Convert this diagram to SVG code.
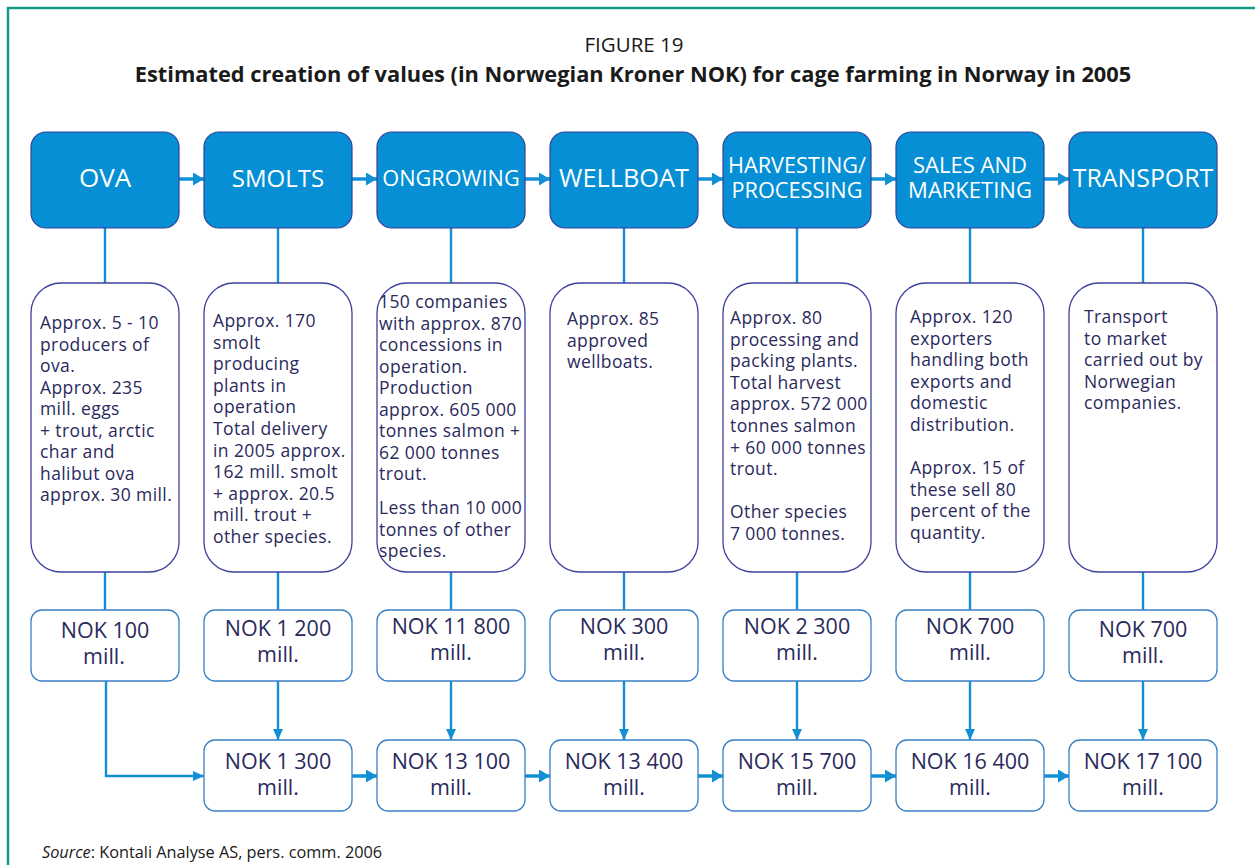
<svg xmlns="http://www.w3.org/2000/svg" width="1255" height="865" viewBox="0 0 1255 865">
<style>
.frame{fill:#ffffff;stroke:#17998a;stroke-width:2.5}
.stage{fill:#068fd4;stroke:#33409a;stroke-width:1.2}
.stl{font-family:"Open Sans","Noto Sans",sans-serif;fill:#ffffff;text-anchor:middle}
.info{fill:#ffffff;stroke:#3d419e;stroke-width:1.3}
.val{fill:#ffffff;stroke:#3a80c6;stroke-width:1.3}
.txt{font-family:"Open Sans","Noto Sans",sans-serif;font-size:17.5px;letter-spacing:0.4px;fill:#2a2a5c}
.vt{font-family:"Open Sans","Noto Sans",sans-serif;font-size:21.5px;fill:#2a2a5c;text-anchor:middle}
.link{stroke:#1290d6;stroke-width:2.4;fill:none}
.thick{stroke:#1290d6;stroke-width:3.5;fill:none}
</style>
<defs>
<marker id="bigArrow" markerUnits="userSpaceOnUse" markerWidth="11" markerHeight="13" refX="11" refY="6.5" orient="auto">
<path d="M0,0 L11,6.5 L0,13 z" fill="#1290d6"/>
</marker>
<marker id="smallArrow" markerUnits="userSpaceOnUse" markerWidth="11" markerHeight="10" refX="11" refY="5" orient="auto">
<path d="M0,0 L11,5 L0,10 z" fill="#1290d6"/>
</marker>
</defs>
<rect class="frame" x="8" y="8" width="1270" height="880"/>
<text x="634" y="52" font-family="Open Sans,Noto Sans,sans-serif" font-size="20.5" fill="#1a1a1a" text-anchor="middle">FIGURE 19</text>
<text x="633" y="82" font-family="Open Sans,Noto Sans,sans-serif" font-size="21.8" font-weight="bold" fill="#1a1a1a" text-anchor="middle">Estimated creation of values (in Norwegian Kroner NOK) for cage farming in Norway in 2005</text>

<g id="connectors">
<line class="thick" x1="179" y1="179" x2="204" y2="179" marker-end="url(#bigArrow)"/>
<line class="thick" x1="352" y1="179" x2="377" y2="179" marker-end="url(#bigArrow)"/>
<line class="thick" x1="525" y1="179" x2="550" y2="179" marker-end="url(#bigArrow)"/>
<line class="thick" x1="698" y1="179" x2="723" y2="179" marker-end="url(#bigArrow)"/>
<line class="thick" x1="871" y1="179" x2="896" y2="179" marker-end="url(#bigArrow)"/>
<line class="thick" x1="1044" y1="179" x2="1069" y2="179" marker-end="url(#bigArrow)"/>
<line class="link" x1="105" y1="228" x2="105" y2="283"/>
<line class="link" x1="278" y1="228" x2="278" y2="283"/>
<line class="link" x1="451" y1="228" x2="451" y2="283"/>
<line class="link" x1="624" y1="228" x2="624" y2="283"/>
<line class="link" x1="797" y1="228" x2="797" y2="283"/>
<line class="link" x1="970" y1="228" x2="970" y2="283"/>
<line class="link" x1="1143" y1="228" x2="1143" y2="283"/>
<line class="link" x1="105" y1="572" x2="105" y2="610"/>
<line class="link" x1="278" y1="572" x2="278" y2="610"/>
<line class="link" x1="451" y1="572" x2="451" y2="610"/>
<line class="link" x1="624" y1="572" x2="624" y2="610"/>
<line class="link" x1="797" y1="572" x2="797" y2="610"/>
<line class="link" x1="970" y1="572" x2="970" y2="610"/>
<line class="link" x1="1143" y1="572" x2="1143" y2="610"/>
<polyline class="link" points="106,681 106,776 204,776" marker-end="url(#smallArrow)"/>
<line class="link" x1="278" y1="681" x2="278" y2="740" marker-end="url(#smallArrow)"/>
<line class="link" x1="451" y1="681" x2="451" y2="740" marker-end="url(#smallArrow)"/>
<line class="link" x1="624" y1="681" x2="624" y2="740" marker-end="url(#smallArrow)"/>
<line class="link" x1="797" y1="681" x2="797" y2="740" marker-end="url(#smallArrow)"/>
<line class="link" x1="970" y1="681" x2="970" y2="740" marker-end="url(#smallArrow)"/>
<line class="link" x1="1143" y1="681" x2="1143" y2="740" marker-end="url(#smallArrow)"/>
<line class="thick" x1="352" y1="776" x2="377" y2="776" marker-end="url(#bigArrow)"/>
<line class="thick" x1="525" y1="776" x2="550" y2="776" marker-end="url(#bigArrow)"/>
<line class="thick" x1="698" y1="776" x2="723" y2="776" marker-end="url(#bigArrow)"/>
<line class="thick" x1="871" y1="776" x2="896" y2="776" marker-end="url(#bigArrow)"/>
<line class="thick" x1="1044" y1="776" x2="1069" y2="776" marker-end="url(#bigArrow)"/>
</g>

<g id="stage-ova">
<rect class="stage" x="31" y="132" width="148" height="96" rx="15"/>
<text class="stl" x="105" y="187" font-size="26">OVA</text>
</g>
<g id="stage-smolts">
<rect class="stage" x="204" y="132" width="148" height="96" rx="15"/>
<text class="stl" x="278" y="187" font-size="24">SMOLTS</text>
</g>
<g id="stage-ongrowing">
<rect class="stage" x="377" y="132" width="148" height="96" rx="15"/>
<text class="stl" x="451" y="186" font-size="21.7">ONGROWING</text>
</g>
<g id="stage-wellboat">
<rect class="stage" x="550" y="132" width="148" height="96" rx="15"/>
<text class="stl" x="624" y="187" font-size="25.3">WELLBOAT</text>
</g>
<g id="stage-harvesting">
<rect class="stage" x="723" y="132" width="148" height="96" rx="15"/>
<text class="stl" x="797" y="173" font-size="21.7">HARVESTING/</text>
<text class="stl" x="797" y="198" font-size="21.7">PROCESSING</text>
</g>
<g id="stage-sales">
<rect class="stage" x="896" y="132" width="148" height="96" rx="15"/>
<text class="stl" x="970" y="173" font-size="22">SALES AND</text>
<text class="stl" x="970" y="198" font-size="22">MARKETING</text>
</g>
<g id="stage-transport">
<rect class="stage" x="1069" y="132" width="148" height="96" rx="15"/>
<text class="stl" x="1143" y="187" font-size="24.9">TRANSPORT</text>
</g>

<g id="info-ova">
<rect class="info" x="31" y="283" width="148" height="289" rx="30"/>
<text class="txt" x="40" y="329"><tspan x="40">Approx. 5 - 10</tspan><tspan x="40" dy="21.5">producers of</tspan><tspan x="40" dy="21.5">ova.</tspan><tspan x="40" dy="21.5">Approx. 235</tspan><tspan x="40" dy="21.5">mill. eggs</tspan><tspan x="40" dy="21.5">+ trout, arctic</tspan><tspan x="40" dy="21.5">char and</tspan><tspan x="40" dy="21.5">halibut ova</tspan><tspan x="40" dy="21.5">approx. 30 mill.</tspan></text>
</g>
<g id="info-smolts">
<rect class="info" x="204" y="283" width="148" height="289" rx="30"/>
<text class="txt" x="213" y="327"><tspan x="213">Approx. 170</tspan><tspan x="213" dy="21.6">smolt</tspan><tspan x="213" dy="21.6">producing</tspan><tspan x="213" dy="21.6">plants in</tspan><tspan x="213" dy="21.6">operation</tspan><tspan x="213" dy="21.6">Total delivery</tspan><tspan x="213" dy="21.6">in 2005 approx.</tspan><tspan x="213" dy="21.6">162 mill. smolt</tspan><tspan x="213" dy="21.6">+ approx. 20.5</tspan><tspan x="213" dy="21.6">mill. trout +</tspan><tspan x="213" dy="21.6">other species.</tspan></text>
</g>
<g id="info-ongrowing">
<rect class="info" x="377" y="283" width="148" height="289" rx="30"/>
<text class="txt" x="379" y="308"><tspan x="379">150 companies</tspan><tspan x="379" dy="21.5">with approx. 870</tspan><tspan x="379" dy="21.5">concessions in</tspan><tspan x="379" dy="21.5">operation.</tspan><tspan x="379" dy="21.5">Production</tspan><tspan x="379" dy="21.5">approx. 605 000</tspan><tspan x="379" dy="21.5">tonnes salmon +</tspan><tspan x="379" dy="21.5">62 000 tonnes</tspan><tspan x="379" dy="21.5">trout.</tspan><tspan x="379" dy="34">Less than 10 000</tspan><tspan x="379" dy="21.5">tonnes of other</tspan><tspan x="379" dy="21.5">species.</tspan></text>
</g>
<g id="info-wellboat">
<rect class="info" x="550" y="283" width="148" height="289" rx="30"/>
<text class="txt" x="567" y="325"><tspan x="567">Approx. 85</tspan><tspan x="567" dy="21.6">approved</tspan><tspan x="567" dy="21.6">wellboats.</tspan></text>
</g>
<g id="info-harvesting">
<rect class="info" x="723" y="283" width="148" height="289" rx="30"/>
<text class="txt" x="730" y="324"><tspan x="730">Approx. 80</tspan><tspan x="730" dy="21.6">processing and</tspan><tspan x="730" dy="21.6">packing plants.</tspan><tspan x="730" dy="21.6">Total harvest</tspan><tspan x="730" dy="21.6">approx. 572 000</tspan><tspan x="730" dy="21.6">tonnes salmon</tspan><tspan x="730" dy="21.6">+ 60 000 tonnes</tspan><tspan x="730" dy="21.6">trout.</tspan><tspan x="730" dy="43.2">Other species</tspan><tspan x="730" dy="21.6">7 000 tonnes.</tspan></text>
</g>
<g id="info-sales">
<rect class="info" x="896" y="283" width="148" height="289" rx="30"/>
<text class="txt" x="910" y="323"><tspan x="910">Approx. 120</tspan><tspan x="910" dy="21.6">exporters</tspan><tspan x="910" dy="21.6">handling both</tspan><tspan x="910" dy="21.6">exports and</tspan><tspan x="910" dy="21.6">domestic</tspan><tspan x="910" dy="21.6">distribution.</tspan><tspan x="910" dy="43.2">Approx. 15 of</tspan><tspan x="910" dy="21.6">these sell 80</tspan><tspan x="910" dy="21.6">percent of the</tspan><tspan x="910" dy="21.6">quantity.</tspan></text>
</g>
<g id="info-transport">
<rect class="info" x="1069" y="283" width="148" height="289" rx="30"/>
<text class="txt" x="1084" y="323"><tspan x="1084">Transport</tspan><tspan x="1084" dy="21.6">to market</tspan><tspan x="1084" dy="21.6">carried out by</tspan><tspan x="1084" dy="21.6">Norwegian</tspan><tspan x="1084" dy="21.6">companies.</tspan></text>
</g>

<g id="value-ova">
<rect class="val" x="31" y="610" width="148" height="71" rx="11"/>
<text class="vt" x="105" y="638">NOK 100</text>
<text class="vt" x="104" y="664">mill.</text>
</g>
<g id="value-smolts">
<rect class="val" x="204" y="610" width="148" height="71" rx="11"/>
<text class="vt" x="278" y="636">NOK 1 200</text>
<text class="vt" x="278" y="662">mill.</text>
</g>
<g id="value-ongrowing">
<rect class="val" x="377" y="610" width="148" height="71" rx="11"/>
<text class="vt" x="451" y="634">NOK 11 800</text>
<text class="vt" x="451" y="660">mill.</text>
</g>
<g id="value-wellboat">
<rect class="val" x="550" y="610" width="148" height="71" rx="11"/>
<text class="vt" x="624" y="634">NOK 300</text>
<text class="vt" x="624" y="660">mill.</text>
</g>
<g id="value-harvesting">
<rect class="val" x="723" y="610" width="148" height="71" rx="11"/>
<text class="vt" x="797" y="634">NOK 2 300</text>
<text class="vt" x="797" y="660">mill.</text>
</g>
<g id="value-sales">
<rect class="val" x="896" y="610" width="148" height="71" rx="11"/>
<text class="vt" x="970" y="634">NOK 700</text>
<text class="vt" x="970" y="660">mill.</text>
</g>
<g id="value-transport">
<rect class="val" x="1069" y="610" width="148" height="71" rx="11"/>
<text class="vt" x="1143" y="637">NOK 700</text>
<text class="vt" x="1143" y="663">mill.</text>
</g>

<g id="total-smolts">
<rect class="val" x="204" y="740" width="148" height="71" rx="11"/>
<text class="vt" x="278" y="769">NOK 1 300</text>
<text class="vt" x="278" y="795">mill.</text>
</g>
<g id="total-ongrowing">
<rect class="val" x="377" y="740" width="148" height="71" rx="11"/>
<text class="vt" x="451" y="769">NOK 13 100</text>
<text class="vt" x="451" y="795">mill.</text>
</g>
<g id="total-wellboat">
<rect class="val" x="550" y="740" width="148" height="71" rx="11"/>
<text class="vt" x="624" y="769">NOK 13 400</text>
<text class="vt" x="624" y="795">mill.</text>
</g>
<g id="total-harvesting">
<rect class="val" x="723" y="740" width="148" height="71" rx="11"/>
<text class="vt" x="797" y="769">NOK 15 700</text>
<text class="vt" x="797" y="795">mill.</text>
</g>
<g id="total-sales">
<rect class="val" x="896" y="740" width="148" height="71" rx="11"/>
<text class="vt" x="970" y="769">NOK 16 400</text>
<text class="vt" x="970" y="795">mill.</text>
</g>
<g id="total-transport">
<rect class="val" x="1069" y="740" width="148" height="71" rx="11"/>
<text class="vt" x="1143" y="769">NOK 17 100</text>
<text class="vt" x="1143" y="795">mill.</text>
</g>

<text x="42" y="858" font-family="Open Sans,Noto Sans,sans-serif" font-size="16.3" fill="#1a1a1a"><tspan font-style="italic">Source</tspan>: Kontali Analyse AS, pers. comm. 2006</text>
</svg>
